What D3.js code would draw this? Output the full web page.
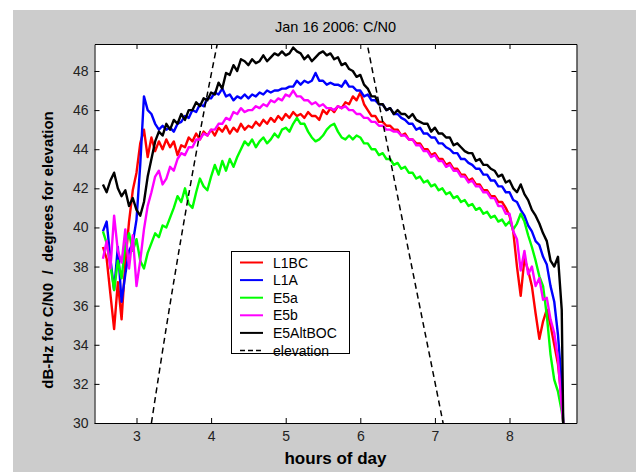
<!DOCTYPE html>
<html><head><meta charset="utf-8">
<script src="https://cdn.jsdelivr.net/npm/d3@7"></script>
<style>body{margin:0;background:#fff;overflow:hidden} text{font-family:"Liberation Sans",Arial,sans-serif}</style>
</head><body><svg id="c" width="636" height="472"></svg>
<script>
const hours=[2.55,2.6,2.65,2.7,2.75,2.8,2.85,2.9,2.95,
3,3.05,3.1,3.15,3.2,3.25,3.3,3.35,3.4,3.45,3.5,3.55,3.6,3.65,3.7,3.75,3.8,3.85,3.9,3.95,
4,4.05,4.1,4.15,4.2,4.25,4.3,4.35,4.4,4.45,4.5,4.55,4.6,4.65,4.7,4.75,4.8,4.85,4.9,4.95,
5,5.05,5.1,5.15,5.2,5.25,5.3,5.35,5.4,5.45,5.5,5.55,5.6,5.65,5.7,5.75,5.8,5.85,5.9,5.95,
6,6.05,6.1,6.15,6.2,6.25,6.3,6.35,6.4,6.45,6.5,6.55,6.6,6.65,6.7,6.75,6.8,6.85,6.9,6.95,
7,7.05,7.1,7.15,7.2,7.25,7.3,7.35,7.4,7.45,7.5,7.55,7.6,7.65,7.7,7.75,7.8,7.85,7.9,7.95,
8,8.05,8.1,8.15,8.2,8.25,8.3,8.35,8.4,8.45,8.5,8.55,8.6,8.65,8.7,8.72];
const L1BC=[39.0,38.4,36.6,34.8,37.2,35.3,38.2,40.3,41.9,
42.8,44.3,45.0,43.6,44.6,43.9,44.4,44.0,44.5,44.1,44.4,43.7,44.2,44.1,44.6,44.4,44.8,44.5,44.9,44.7,
45.0,44.7,45.1,44.9,45.2,44.8,45.1,44.9,45.3,45.0,45.2,45.1,45.4,45.2,45.5,45.3,45.6,45.4,45.7,45.5,
45.8,45.6,45.9,45.7,45.8,45.6,45.9,45.7,45.7,45.5,46.0,45.8,46.1,45.9,46.2,46.1,46.4,46.3,46.7,46.5,
46.9,46.3,46.0,45.7,45.7,45.4,45.4,45.2,45.2,45.0,45.0,44.7,44.8,44.5,44.5,44.3,44.3,44.0,44.0,43.7,
43.8,43.5,43.5,43.2,43.3,43.0,43.0,42.7,42.7,42.4,42.5,42.2,42.2,41.9,41.9,41.6,41.6,41.3,41.3,41.0,
40.6,39.8,38.0,36.5,38.4,37.8,37.0,35.6,34.3,35.2,35.8,35.0,34.0,33.0,31.2,30.0];
const L1A=[39.8,40.3,38.4,36.8,39.0,36.2,37.6,38.8,39.2,
40.4,43.2,46.7,46.0,45.8,45.3,45.0,45.2,45.0,45.1,44.9,45.3,45.4,45.7,45.6,46.0,45.9,46.3,46.2,46.6,
46.6,46.9,46.8,47.1,46.7,46.8,46.5,46.7,46.6,46.8,46.6,46.8,46.7,46.9,46.8,47.0,46.9,47.0,47.0,47.1,
47.1,47.2,47.2,47.5,47.3,47.5,47.4,47.5,47.9,47.5,47.5,47.3,47.4,47.3,47.3,47.2,47.5,47.2,47.2,47.0,
47.0,46.7,46.8,46.5,46.5,46.3,46.3,46.0,46.1,45.8,45.8,45.6,45.5,45.3,45.3,45.0,45.1,44.8,44.8,44.6,
44.6,44.3,44.3,44.1,44.0,43.8,43.8,43.5,43.5,43.3,43.2,43.0,43.0,42.7,42.7,42.4,42.4,42.1,42.1,41.8,
41.8,41.4,41.3,40.9,40.6,40.1,39.8,39.3,39.1,38.5,38.1,37.0,36.2,34.5,32.0,30.0];
const E5a=[39.8,39.2,38.1,36.8,38.3,37.4,39.1,39.7,38.8,
39.4,38.3,37.9,38.7,39.2,39.7,39.5,40.1,40.0,40.5,41.0,41.6,41.3,42.0,41.2,41.0,41.8,42.5,42.1,41.9,
42.6,43.2,42.7,43.4,42.9,43.5,43.1,43.6,44.0,44.4,44.2,44.5,44.1,44.4,44.6,44.3,44.5,44.8,44.6,45.0,
45.1,44.9,45.3,45.6,45.3,45.3,44.9,44.6,44.4,44.5,44.7,45.0,45.2,45.3,44.9,44.6,44.5,44.7,44.5,44.7,
44.6,44.3,44.3,44.0,44.0,43.7,43.8,43.5,43.5,43.2,43.3,43.0,43.1,42.8,42.8,42.5,42.6,42.3,42.4,42.1,
42.2,41.9,42.0,41.7,41.8,41.5,41.6,41.3,41.4,41.1,41.2,40.9,41.0,40.7,40.8,40.5,40.6,40.3,40.4,40.1,
40.3,39.9,40.2,40.7,40.3,39.6,39.0,38.3,37.5,37.0,35.5,33.5,32.2,31.6,30.6,30.0];
const E5b=[38.4,39.3,37.9,40.6,38.8,38.2,39.9,37.9,39.6,
37.0,38.3,39.9,41.1,41.8,42.6,42.9,42.2,42.5,43.1,42.9,43.5,43.8,43.7,44.1,44.1,44.5,44.5,44.8,44.7,
45.0,45.0,45.3,45.3,45.6,45.5,45.9,45.8,46.1,45.9,46.0,46.0,46.2,46.1,46.3,46.2,46.5,46.4,46.6,46.5,
46.8,46.7,47.0,46.7,46.7,46.5,46.5,46.3,46.4,46.2,46.3,46.1,46.1,46.0,46.2,46.1,46.2,46.0,46.0,45.8,
45.8,45.6,45.6,45.4,45.4,45.2,45.2,45.0,45.0,44.9,44.9,44.7,44.7,44.5,44.5,44.2,44.2,43.9,43.9,43.6,
43.7,43.4,43.4,43.1,43.2,42.9,42.9,42.6,42.6,42.3,42.4,42.1,42.1,41.8,41.8,41.5,41.5,41.1,41.1,40.7,
40.7,39.8,39.4,37.8,38.8,37.6,38.0,37.0,37.4,36.3,36.4,35.3,34.6,33.3,30.8,30.0];
const E5AltBOC=[42.2,41.8,42.4,42.8,42.0,41.6,41.9,41.1,41.5,
40.9,40.6,41.3,42.6,43.5,44.4,44.9,44.7,45.3,45.0,45.5,45.3,45.8,45.5,46.0,46.0,46.4,46.2,46.6,46.5,
46.9,46.8,47.4,47.1,47.9,47.8,48.3,48.0,48.6,48.5,48.3,48.6,48.4,48.5,48.8,48.5,48.7,48.9,48.8,49.0,
48.8,48.9,49.2,49.0,48.9,48.6,48.8,48.5,48.7,48.9,49.0,48.8,48.9,48.6,48.7,48.3,48.4,48.1,48.0,47.7,
47.8,47.3,47.1,46.7,46.7,46.3,46.3,46.0,46.1,45.8,46.0,45.8,45.8,45.6,45.8,45.5,45.4,45.3,45.3,44.9,
45.1,44.8,44.8,44.6,44.6,44.2,44.3,44.1,43.9,43.8,43.8,43.4,43.5,43.2,43.2,43.0,42.9,42.6,42.7,42.3,
42.4,42.0,41.8,42.2,41.7,41.4,40.9,40.6,40.2,39.7,39.3,38.3,38.0,38.5,35.8,30.0];
const elevHours=[3.2,3.4,3.6,3.8,4.0,4.2,4.6,5.1,5.6,6.0,6.2,6.4,6.6,6.8,7.0,7.12];
const elevation=[30,34.9,39.5,43.8,47.8,51.5,57,60,57,51.1,47.3,43.5,39.7,35.9,32.1,29.8];
const xTicks=[3,4,5,6,7,8];
const yTicks=[30,32,34,36,38,40,42,44,46,48];
const seriesNames=["L1BC","L1A","E5a","E5b","E5AltBOC"];
const seriesColors=["#ff0000","#0000ff","#00ff00","#ff00ff","#000000"];

const svg=d3.select("#c");
const L=94.5,R=576.5,T=44,B=423;
const x=d3.scaleLinear().domain([2.437,8.898]).range([L,R]);
const y=d3.scaleLinear().domain([30,49.38]).range([B,T]);

svg.append("rect").attr("x",13).attr("y",10).attr("width",636-13).attr("height",472-10).attr("fill","#cccccc");
svg.append("rect").attr("x",L).attr("y",T).attr("width",R-L).attr("height",B-T).attr("fill","#fff");

svg.append("clipPath").attr("id","clip").append("rect").attr("x",L).attr("y",T).attr("width",R-L).attr("height",B-T);
const plot=svg.append("g").attr("clip-path","url(#clip)");

const allSeries=[L1BC,L1A,E5a,E5b,E5AltBOC];
const line=d3.line().x((d,i)=>x(hours[i])).y(d=>y(d));
allSeries.forEach((s,k)=>{
  plot.append("path").datum(s).attr("d",line).attr("fill","none")
    .attr("stroke",seriesColors[k]).attr("stroke-width",2.4).attr("stroke-linejoin","round");
});
const eline=d3.line().x((d,i)=>x(elevHours[i])).y(d=>y(d)).curve(d3.curveMonotoneX);
plot.append("path").datum(elevation).attr("d",eline).attr("fill","none")
  .attr("stroke","#000").attr("stroke-width",1.5).attr("stroke-dasharray","6,4");

// axes
const fmt=d3.format("d");
const axB=d3.axisBottom(x).tickValues(xTicks).tickFormat(fmt).tickSizeInner(-5).tickSizeOuter(0).tickPadding(8);
const axT=d3.axisTop(x).tickValues(xTicks).tickSizeInner(-5).tickSizeOuter(0).tickFormat("");
const axL=d3.axisLeft(y).tickValues(yTicks).tickFormat(fmt).tickSizeInner(-5).tickSizeOuter(0).tickPadding(6);
const axR=d3.axisRight(y).tickValues(yTicks).tickSizeInner(-5).tickSizeOuter(0).tickFormat("");
const gB=svg.append("g").attr("transform",`translate(0,${B})`).call(axB);
const gT=svg.append("g").attr("transform",`translate(0,${T})`).call(axT);
const gL=svg.append("g").attr("transform",`translate(${L},0)`).call(axL);
const gR=svg.append("g").attr("transform",`translate(${R},0)`).call(axR);
[gB,gT,gL,gR].forEach(g=>{
  g.select(".domain").attr("stroke","#000");
  g.selectAll(".tick line").attr("stroke","#000");
  g.selectAll("text").attr("font-size",14).attr("fill","#222").attr("font-family","Liberation Sans, Arial, sans-serif");
});

svg.append("text").attr("x",(L+R)/2).attr("y",32).attr("text-anchor","middle")
  .attr("font-size",14.5).attr("fill","#000").text("Jan 16 2006: C/N0");
svg.append("text").attr("x",(L+R)/2).attr("y",464).attr("text-anchor","middle")
  .attr("font-size",17).attr("font-weight","bold").attr("fill","#000").text("hours of day");
svg.append("text").attr("transform",`translate(53,250) rotate(-90)`).attr("text-anchor","middle")
  .attr("font-size",15).attr("font-weight","bold").attr("fill","#000").style("white-space","pre")
  .text("dB-Hz for C/N0  /  degrees for elevation");

// legend
const lg=svg.append("g");
lg.append("rect").attr("x",231.5).attr("y",251.5).attr("width",118).attr("height",102).attr("fill","#fff").attr("stroke","#000");
const names=seriesNames.concat(["elevation"]);
names.forEach((n,i)=>{
  const yy=262.5+i*17.6;
  lg.append("line").attr("x1",240).attr("x2",263).attr("y1",yy).attr("y2",yy)
    .attr("stroke",i<5?seriesColors[i]:"#000").attr("stroke-width",i<5?2:1.5).attr("stroke-dasharray",i<5?null:"5,3");
  lg.append("text").attr("x",273).attr("y",yy+5).attr("font-size",14).attr("fill","#000").text(n);
});
</script></body></html>
